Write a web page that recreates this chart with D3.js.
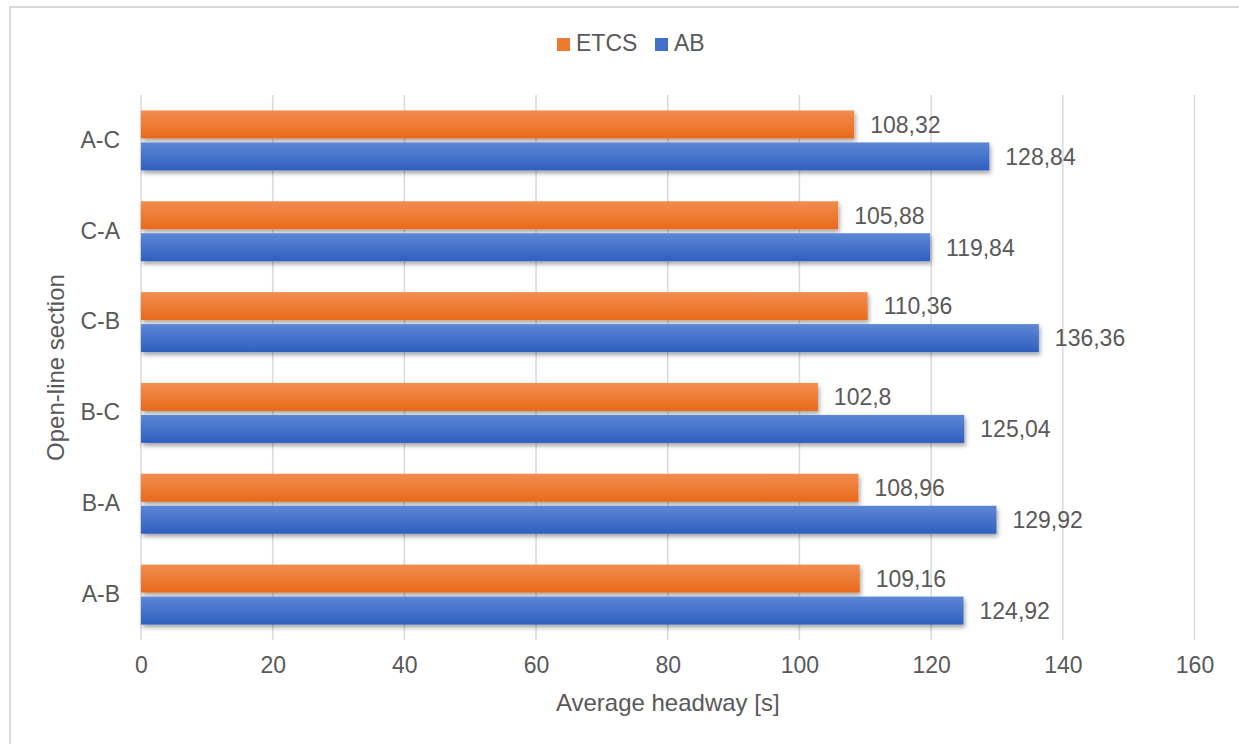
<!DOCTYPE html>
<html>
<head>
  <meta charset="utf-8">
  <title>Average headway by open-line section</title>
  <style>
  body { margin: 0; background: #fff; }
  text { font-family: "Liberation Sans", Arial, sans-serif; fill: #595959; }
  .grid line { stroke: #d9d9d9; stroke-width: 1.5; }
  </style>
</head>
<body>
  <div id="chart"></div>
  <script src="https://d3js.org/d3.v7.min.js"></script>
  <script>
    var sections = ["A-C", "C-A", "C-B", "B-C", "B-A", "A-B"];
    var etcs = [108.32, 105.88, 110.36, 102.8, 108.96, 109.16];
    var ab = [128.84, 119.84, 136.36, 125.04, 129.92, 124.92];
    var seriesNames = ["ETCS", "AB"];
    var xTicks = [0, 20, 40, 60, 80, 100, 120, 140, 160];

    var width = 1239, height = 744;
    var plotLeft = 141, plotRight = 1194.5, plotTop = 95, plotBottom = 640;

    var svg = d3.select("#chart").append("svg")
        .attr("width", width)
        .attr("height", height);

    var defs = svg.append("defs");
    var grads = [
      {id: "gOrange", c0: "#f28d50", c1: "#e8691a"},
      {id: "gBlue", c0: "#5d87d6", c1: "#2f5fbf"}
    ];
    grads.forEach(function(g) {
      var lg = defs.append("linearGradient")
          .attr("id", g.id)
          .attr("x1", 0).attr("y1", 0).attr("x2", 0).attr("y2", 1);
      lg.append("stop").attr("offset", "0%").attr("stop-color", g.c0);
      lg.append("stop").attr("offset", "100%").attr("stop-color", g.c1);
    });
    defs.append("filter")
        .attr("id", "shadow")
        .attr("x", "-5%").attr("y", "-30%").attr("width", "110%").attr("height", "180%")
      .append("feDropShadow")
        .attr("dx", 1.5).attr("dy", 3)
        .attr("stdDeviation", 2)
        .attr("flood-color", "#000")
        .attr("flood-opacity", 0.35);

    // chart frame
    svg.append("rect")
        .attr("x", 10).attr("y", 7)
        .attr("width", 1260).attr("height", 760)
        .attr("fill", "none")
        .attr("stroke", "#d9d9d9")
        .attr("stroke-width", 2);

    var x = d3.scaleLinear()
        .domain([0, 160])
        .range([plotLeft, plotRight]);

    var y = d3.scaleBand()
        .domain(sections)
        .range([plotTop, plotBottom])
        .paddingInner(0.34)
        .paddingOuter(0.17);

    var ySeries = d3.scaleBand()
        .domain(seriesNames)
        .range([0, y.bandwidth()])
        .paddingInner(0.125);

    var color = {ETCS: "url(#gOrange)", AB: "url(#gBlue)"};
    var swatch = {ETCS: "#ee7a30", AB: "#4170c8"};

    // gridlines
    svg.append("g")
        .attr("class", "grid")
      .selectAll("line")
      .data(xTicks)
      .enter().append("line")
        .attr("x1", function(d) { return x(d); })
        .attr("x2", function(d) { return x(d); })
        .attr("y1", plotTop)
        .attr("y2", plotBottom);

    // x tick labels
    var xAxis = svg.append("g")
        .attr("transform", "translate(0," + plotBottom + ")")
        .call(d3.axisBottom(x).tickValues(xTicks).tickSize(0).tickPadding(17));
    xAxis.select(".domain").remove();
    xAxis.selectAll("text")
        .attr("font-size", 23)
        .attr("font-family", "Liberation Sans, Arial, sans-serif")
        .style("fill", "#595959");

    // y category labels
    var yAxis = svg.append("g")
        .attr("transform", "translate(" + plotLeft + ",0)")
        .call(d3.axisLeft(y).tickSize(0).tickPadding(21));
    yAxis.select(".domain").remove();
    yAxis.selectAll("text")
        .attr("font-size", 23)
        .attr("font-family", "Liberation Sans, Arial, sans-serif")
        .style("fill", "#595959");

    var rows = sections.map(function(s, i) {
      return {section: s, values: [
        {name: "ETCS", value: etcs[i]},
        {name: "AB", value: ab[i]}
      ]};
    });

    var groups = svg.append("g").selectAll("g")
      .data(rows)
      .enter().append("g")
        .attr("transform", function(d) { return "translate(0," + y(d.section) + ")"; });

    groups.selectAll("rect")
      .data(function(d) { return d.values; })
      .enter().append("rect")
        .attr("x", x(0))
        .attr("y", function(d) { return ySeries(d.name); })
        .attr("width", function(d) { return x(d.value) - x(0); })
        .attr("height", ySeries.bandwidth())
        .attr("fill", function(d) { return color[d.name]; })
        .attr("filter", "url(#shadow)");

    groups.selectAll("text.lbl")
      .data(function(d) { return d.values; })
      .enter().append("text")
        .attr("class", "lbl")
        .attr("x", function(d) { return x(d.value) + 16; })
        .attr("y", function(d) { return ySeries(d.name) + ySeries.bandwidth() / 2; })
        .attr("dy", "0.36em")
        .attr("font-size", 23)
        .text(function(d) { return String(d.value).replace(".", ","); });

    // axis titles
    svg.append("text")
        .attr("x", (plotLeft + plotRight) / 2)
        .attr("y", 711)
        .attr("text-anchor", "middle")
        .attr("font-size", 24)
        .text("Average headway [s]");

    svg.append("text")
        .attr("transform", "translate(64," + (plotTop + plotBottom) / 2 + ") rotate(-90)")
        .attr("text-anchor", "middle")
        .attr("font-size", 24)
        .text("Open-line section");

    // legend
    var legend = svg.append("g");
    var legendX = [557, 655];
    seriesNames.forEach(function(name, i) {
      legend.append("rect")
          .attr("x", legendX[i])
          .attr("y", 38)
          .attr("width", 13)
          .attr("height", 13)
          .attr("fill", swatch[name]);
      legend.append("text")
          .attr("x", legendX[i] + 19)
          .attr("y", 51)
          .attr("font-size", 23)
          .text(name);
    });
  </script>
</body>
</html>
